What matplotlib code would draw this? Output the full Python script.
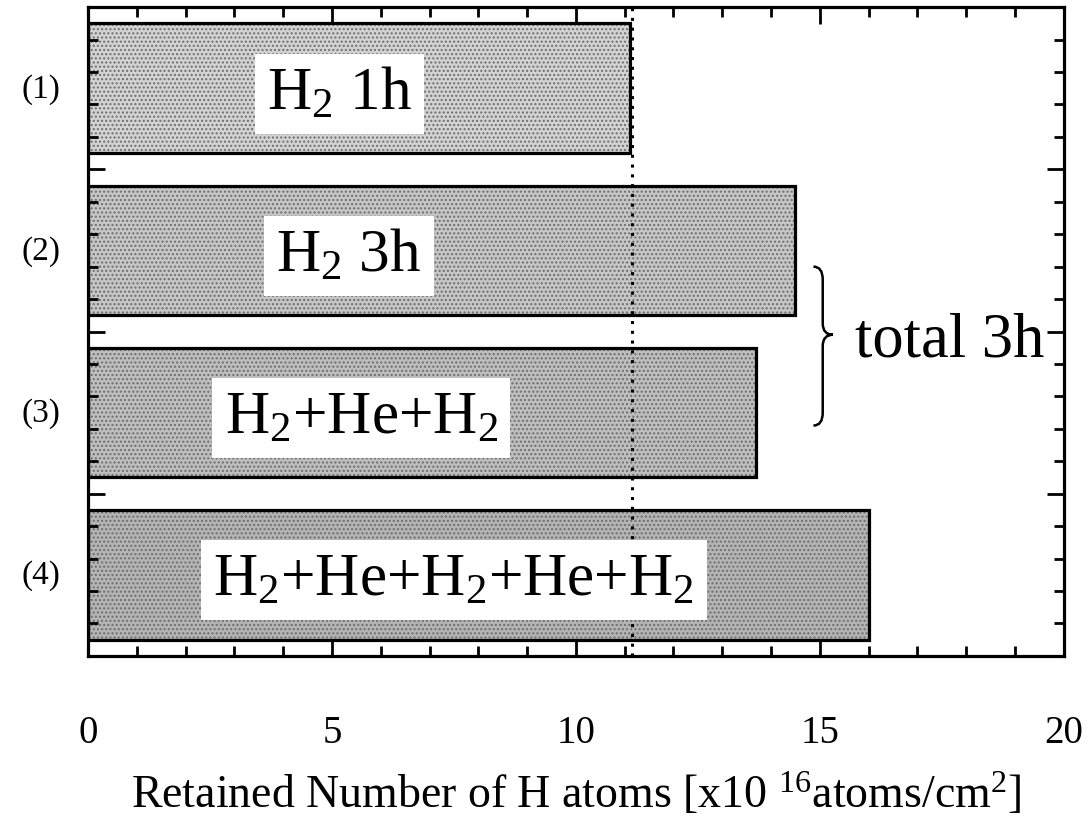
import matplotlib
matplotlib.use("Agg")
import matplotlib.pyplot as plt
from matplotlib.path import Path
from matplotlib.patches import PathPatch
from matplotlib.ticker import MultipleLocator
from matplotlib.transforms import blended_transform_factory

plt.rcParams['font.family'] = ['Liberation Serif', 'DejaVu Serif']
plt.rcParams['mathtext.fontset'] = 'custom'
plt.rcParams['mathtext.rm'] = 'Liberation Serif'
plt.rcParams['mathtext.it'] = 'Liberation Serif:italic'
plt.rcParams['mathtext.bf'] = 'Liberation Serif:bold'

# ---- data ----
case_labels = ['(1)', '(2)', '(3)', '(4)']
bar_texts = [r'H$_\mathregular{2}$ 1h', r'H$_\mathregular{2}$ 3h',
             r'H$_\mathregular{2}$+He+H$_\mathregular{2}$',
             r'H$_\mathregular{2}$+He+H$_\mathregular{2}$+He+H$_\mathregular{2}$']
retained = [11.1, 14.5, 13.7, 16.0]
bar_pos = [2.5, 7.5, 12.5, 17.5]
text_x = [5.15, 5.35, 5.6, 7.5]
reference_level = 11.15
x_ticks = [0, 5, 10, 15, 20]
x_tick_labels = ['0', '5', '10', '15', '20']
bar_fill = ['#d2d2d2', '#c6c6c6', '#bebebe', '#b4b4b4']

fig = plt.figure(figsize=(10.89, 8.2), dpi=100)
ax = fig.add_axes([0.0808, 0.199, 0.896, 0.791])

# textured fill
for y, v, c in zip(bar_pos, retained, bar_fill):
    ax.barh(y, v, height=4.0, color=c, edgecolor='#6e6e6e', hatch='....',
            linewidth=0, zorder=1)
ax.barh(bar_pos, retained, height=4.0, fill=False, edgecolor='black',
        linewidth=2.3, zorder=3)

ax.axvline(reference_level, color='black', linestyle=(0, (1, 2.2)),
           linewidth=2.2, zorder=4)

for y, tx, t in zip(bar_pos, text_x, bar_texts):
    ax.text(tx, y + 0.62, t, fontsize=44, ha='center', va='baseline',
            zorder=5,
            bbox=dict(boxstyle='square,pad=0.2', facecolor='white',
                      edgecolor='none'))

trans = blended_transform_factory(ax.transAxes, ax.transData)
for y, lab in zip(bar_pos, case_labels):
    ax.text(-0.048, y, lab, transform=trans, fontsize=24, ha='center',
            va='center')

# brace spanning cases (2) and (3)
y0, y1 = 8.0, 12.9
ym = 10.1
xl, xc, xt = 14.87, 15.06, 15.27
verts = [(xl, y0), (xc, y0), (xc, y0 + 0.4),
         (xc, ym - 0.35), (xc, ym), (xt, ym),
         (xc, ym), (xc, ym + 0.35),
         (xc, y1 - 0.4), (xc, y1), (xl, y1)]
codes = [Path.MOVETO, Path.CURVE3, Path.CURVE3,
         Path.LINETO, Path.CURVE3, Path.CURVE3,
         Path.CURVE3, Path.CURVE3,
         Path.LINETO, Path.CURVE3, Path.CURVE3]
ax.add_patch(PathPatch(Path(verts, codes), facecolor='none',
                       edgecolor='black', linewidth=1.8, zorder=4))
ax.text(15.72, 10.75, 'total 3h', fontsize=45, ha='left', va='baseline')

ax.set_xlim(0, 20)
ax.set_ylim(20, 0)
ax.set_xticks(x_ticks)
ax.set_xticklabels(x_tick_labels, fontsize=28)
ax.xaxis.set_minor_locator(MultipleLocator(1))
ax.yaxis.set_major_locator(MultipleLocator(5))
ax.yaxis.set_minor_locator(MultipleLocator(1))
ax.set_yticklabels([])
ax.tick_params(which='both', direction='in', top=True, right=True,
               width=2.0)
ax.tick_params(which='major', length=12)
ax.tick_params(which='minor', length=7)
ax.tick_params(axis='x', which='major', pad=42)
for s in ax.spines.values():
    s.set_linewidth(2.3)

ax.set_xlabel(r'Retained Number of H atoms [x10 $^\mathregular{16}$atoms/cm$^\mathregular{2}$]',
              fontsize=33, labelpad=14)

fig.savefig('out.png', dpi=100)
